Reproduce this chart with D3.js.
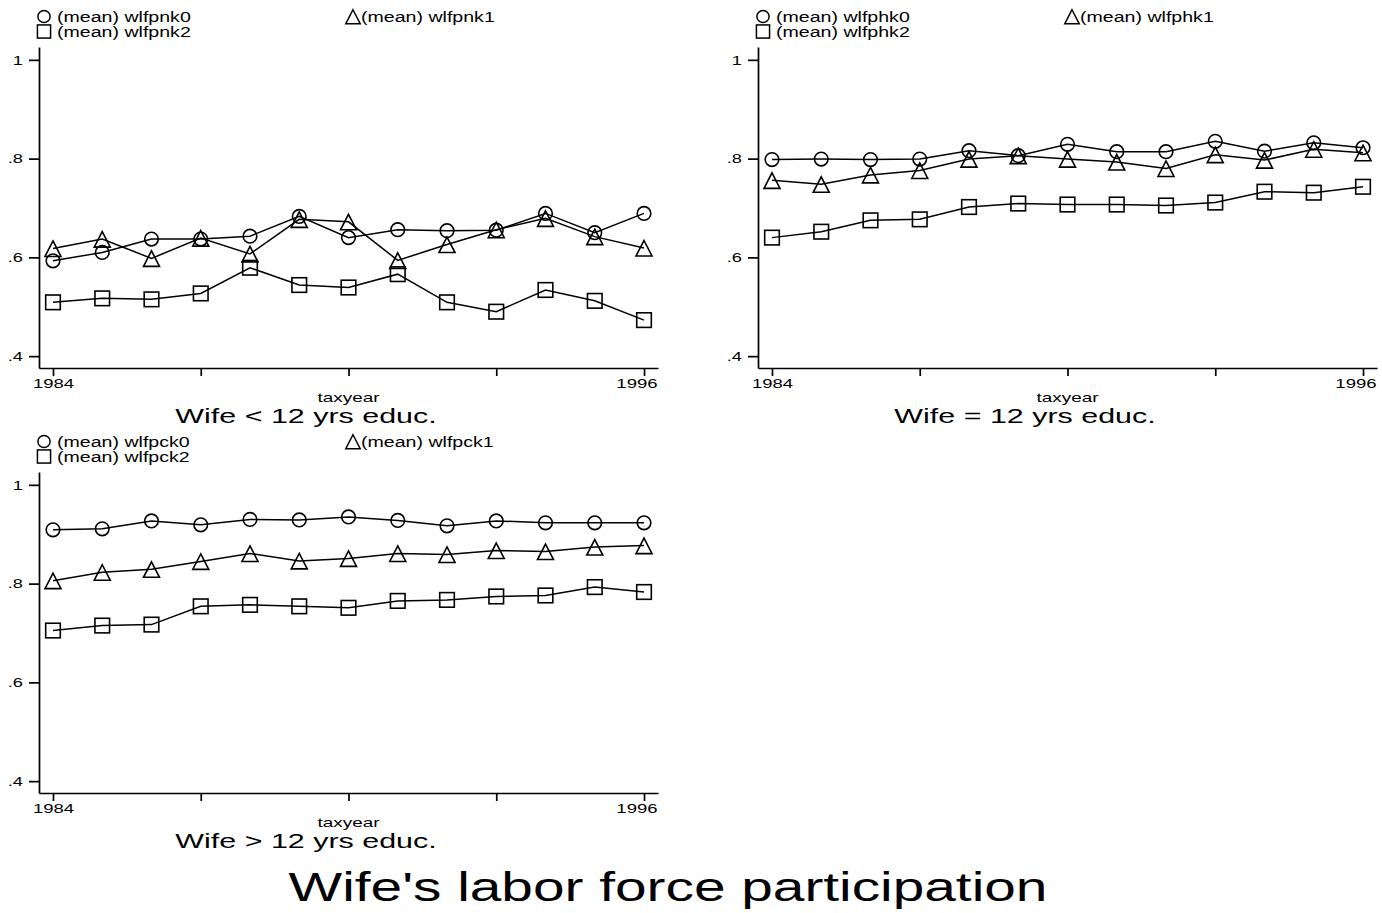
<!DOCTYPE html>
<html>
<head>
<meta charset="utf-8">
<script src="https://cdn.jsdelivr.net/npm/d3@7"></script>
<style>
  body { margin: 0; background: #fff; }
  svg { display: block; }
  text { font-family: "Liberation Sans", Arial, Helvetica, sans-serif; fill: #000; }
</style>
</head>
<body>
<svg id="chart" width="1382" height="913"></svg>
<script>
// ---- data -------------------------------------------------------------
const years = [1984, 1985, 1986, 1987, 1988, 1989, 1990, 1991, 1992, 1993, 1994, 1995, 1996];
const xTicks = [1984, 1987, 1990, 1993, 1996];
const xTickLabels = ["1984", "", "", "", "1996"];
const yTicks = [0.4, 0.6, 0.8, 1];
const yTickLabels = [".4", ".6", ".8", "1"];

const chartTitle = "Wife's labor force participation";
const xTitle = "taxyear";
const panelTitles = ["Wife < 12 yrs educ.", "Wife = 12 yrs educ.", "Wife > 12 yrs educ."];
const legendPrefix = "(mean) ";
const seriesNames = [
  ["wlfpnk0", "wlfpnk1", "wlfpnk2"],
  ["wlfphk0", "wlfphk1", "wlfphk2"],
  ["wlfpck0", "wlfpck1", "wlfpck2"]
];

// wife < 12 years of education
const wlfpnk0 = [0.593, 0.610, 0.637, 0.637, 0.643, 0.683, 0.640, 0.656, 0.654, 0.655, 0.689, 0.650, 0.689];
const wlfpnk1 = [0.618, 0.637, 0.598, 0.639, 0.607, 0.677, 0.672, 0.594, 0.626, 0.656, 0.679, 0.642, 0.619];
const wlfpnk2 = [0.509, 0.517, 0.515, 0.527, 0.579, 0.544, 0.539, 0.566, 0.509, 0.490, 0.534, 0.512, 0.473];
// wife = 12 years of education
const wlfphk0 = [0.798, 0.799, 0.798, 0.799, 0.816, 0.806, 0.829, 0.814, 0.814, 0.835, 0.815, 0.832, 0.822];
const wlfphk1 = [0.756, 0.748, 0.767, 0.776, 0.799, 0.806, 0.799, 0.793, 0.780, 0.808, 0.797, 0.819, 0.812];
const wlfphk2 = [0.640, 0.652, 0.675, 0.677, 0.702, 0.709, 0.707, 0.707, 0.705, 0.711, 0.733, 0.731, 0.743];
// wife > 12 years of education
const wlfpck0 = [0.909, 0.911, 0.927, 0.919, 0.930, 0.929, 0.935, 0.928, 0.917, 0.927, 0.923, 0.923, 0.923];
const wlfpck1 = [0.806, 0.823, 0.829, 0.845, 0.861, 0.846, 0.851, 0.861, 0.859, 0.867, 0.865, 0.874, 0.877];
const wlfpck2 = [0.705, 0.715, 0.717, 0.754, 0.757, 0.754, 0.751, 0.765, 0.767, 0.774, 0.776, 0.793, 0.783];

const panelSeries = [
  [wlfpnk0, wlfpnk1, wlfpnk2],
  [wlfphk0, wlfphk1, wlfphk2],
  [wlfpck0, wlfpck1, wlfpck2]
];
const markerKinds = ["circle", "triangle", "square"];

// ---- layout -------------------------------------------------------------
const panelOrigins = [[0, 0], [719, 0], [0, 425]];
const plot = { left: 39, right: 658, top: 47, bottom: 368 };
// values at the plot frame edges (axis lines run a little past the outer ticks)
const xFrame = [1983.716, 1996.284];
const yFrame = [0.376, 1.026];

const svg = d3.select("#chart");

// horizontally widened text: place at (x,y) and stretch by k
function place(sel, x, y, k) {
  sel.attr("x", 0).attr("y", 0)
     .attr("transform", `translate(${x},${y}) scale(${k},1)`);
  return sel;
}

function marker(g, kind, cx, cy, s) {
  if (kind === "circle") {
    g.append("circle").attr("cx", cx).attr("cy", cy).attr("r", 6.8 * s);
  } else if (kind === "square") {
    const h = 7.3 * s;
    g.append("rect").attr("x", cx - h).attr("y", cy - h)
      .attr("width", 2 * h).attr("height", 2 * h);
  } else {
    g.append("path").attr("d",
      `M${cx},${cy - 7.5 * s}L${cx + 8 * s},${cy + 8 * s}L${cx - 8 * s},${cy + 8 * s}Z`);
  }
}

panelOrigins.forEach((origin, p) => {
  const g = svg.append("g").attr("transform", `translate(${origin[0]},${origin[1]})`);

  const x = d3.scaleLinear().domain(xFrame).range([plot.left, plot.right]);
  const y = d3.scaleLinear().domain(yFrame).range([plot.bottom, plot.top]);

  // y axis
  const yAxis = g.append("g")
    .attr("transform", `translate(${plot.left},0)`)
    .call(d3.axisLeft(y).tickValues(yTicks)
      .tickFormat((d, i) => yTickLabels[i])
      .tickSize(10).tickSizeOuter(0).tickPadding(6));
  // x axis
  const xAxis = g.append("g")
    .attr("transform", `translate(0,${plot.bottom})`)
    .call(d3.axisBottom(x).tickValues(xTicks)
      .tickFormat((d, i) => xTickLabels[i])
      .tickSize(8).tickSizeOuter(0).tickPadding(2));

  [yAxis, xAxis].forEach(a => {
    a.select(".domain").attr("stroke", "#000").attr("stroke-width", 1.7);
    a.selectAll(".tick line").attr("stroke", "#000").attr("stroke-width", 1.7);
    a.selectAll("text").attr("font-size", 13.5).attr("font-family", null).attr("fill", "#000");
  });
  yAxis.selectAll(".tick text").each(function () {
    place(d3.select(this), -16, 0, 1.35);
  });
  xAxis.selectAll(".tick text").each(function (d, i) {
    const t = d3.select(this);
    if (i === xTicks.length - 1) {
      // last label kept inside the axis end
      t.attr("text-anchor", "end");
      place(t, plot.right - x(d) - 1, 10, 1.37);
    } else {
      place(t, 0, 10, 1.37);
    }
  });

  // axis title
  place(g.append("text").attr("text-anchor", "middle").attr("font-size", 13.5).text(xTitle),
    (x(years[0]) + x(years[years.length - 1])) / 2, 402, 1.4);
  // panel caption
  place(g.append("text").attr("text-anchor", "middle").attr("font-size", 21).text(panelTitles[p]),
    306, 423, 1.45);

  // legend
  const legendPos = [[44, 16.5, 57, 21.5], [353, 16.5, 361, 21.5], [44, 31.5, 57, 36.5]];
  seriesNames[p].forEach((name, s) => {
    const lg = g.append("g").attr("fill", "none").attr("stroke", "#000").attr("stroke-width", 1.5);
    marker(lg, markerKinds[s], legendPos[s][0], legendPos[s][1], 0.9);
    place(g.append("text").attr("font-size", 14.5).text(legendPrefix + name),
      legendPos[s][2], legendPos[s][3], 1.35);
  });

  // series lines and markers
  const line = d3.line().x((d, i) => x(years[i])).y(d => y(d));
  panelSeries[p].forEach((vals, s) => {
    g.append("path").datum(vals)
      .attr("d", line).attr("fill", "none")
      .attr("stroke", "#000").attr("stroke-width", 1.5);
    const mg = g.append("g").attr("fill", "none").attr("stroke", "#000").attr("stroke-width", 1.6);
    vals.forEach((v, i) => marker(mg, markerKinds[s], x(years[i]), y(v), 1));
  });
});

// overall title
place(svg.append("text").attr("text-anchor", "middle").attr("font-size", 40).text(chartTitle),
  668, 901, 1.42);
</script>
</body>
</html>
